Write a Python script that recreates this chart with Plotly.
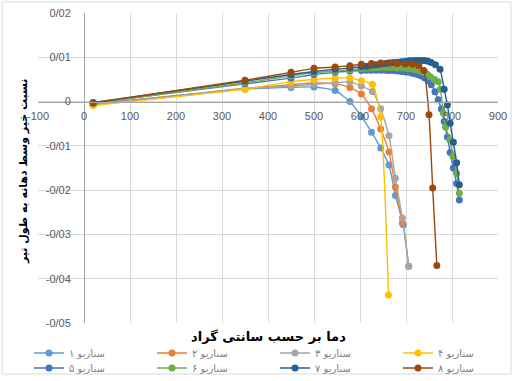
import plotly.graph_objects as go

# ---- data ----
names = ["سناریو ۱", "سناریو ۲", "سناریو ۳", "سناریو ۴",
         "سناریو ۵", "سناریو ۶", "سناریو ۷", "سناریو ۸"]
colors = ["#5B9BD5", "#ED7D31", "#A5A5A5", "#FFC000",
          "#4472C4", "#70AD47", "#255E91", "#9E480E"]

x1 = [20, 350, 450, 500, 546, 578, 603, 625, 645, 663, 677, 694, 706]
y1 = [-0.0005, 0.0028, 0.0032, 0.0033, 0.0025, 0.0000, -0.0034, -0.0069,
      -0.0105, -0.0143, -0.0212, -0.0278, -0.0372]

x2 = [20, 350, 450, 500, 546, 578, 603, 625, 645, 663, 677, 692]
y2 = [-0.0007, 0.0030, 0.0038, 0.0042, 0.0040, 0.0032, 0.0017, -0.0016,
      -0.0062, -0.0114, -0.0193, -0.0274]

x3 = [20, 350, 450, 500, 546, 578, 603, 627, 645, 663, 677, 692, 706]
y3 = [-0.0008, 0.0029, 0.0035, 0.0039, 0.0042, 0.0045, 0.0035, 0.0023,
      -0.0016, -0.0077, -0.0173, -0.0263, -0.0372]

x4 = [20, 350, 450, 500, 546, 578, 603, 627, 645, 662]
y4 = [-0.0009, 0.0028, 0.0045, 0.0050, 0.0053, 0.0053, 0.0047, 0.0039,
      -0.0035, -0.0437]

x5 = [20, 350, 450, 500, 546, 578, 603, 615, 625, 635, 645, 655, 663, 672,
      681, 690, 699, 707, 714, 721, 728, 735, 741, 748, 755, 763, 770, 777,
      783, 790, 796, 803, 810, 816]
y5 = [-0.0003, 0.0040, 0.0053, 0.0061, 0.0066, 0.0069, 0.0070, 0.0071,
      0.0071, 0.0071, 0.0071, 0.0071, 0.0070, 0.0070, 0.0069, 0.0068,
      0.0067, 0.0066, 0.0064, 0.0062, 0.0060, 0.0057, 0.0053, 0.0047,
      0.0038, 0.0022, 0.0004, -0.0017, -0.0045, -0.0080, -0.0115,
      -0.0150, -0.0185, -0.0222]

x6 = [20, 350, 450, 500, 546, 578, 603, 615, 625, 635, 645, 655, 663, 672,
      681, 690, 699, 707, 714, 721, 728, 735, 741, 747, 753, 762, 770, 775,
      781, 786, 795, 802, 810, 816]
y6 = [-0.0004, 0.0042, 0.0058, 0.0065, 0.0069, 0.0072, 0.0074, 0.0075,
      0.0076, 0.0076, 0.0077, 0.0077, 0.0077, 0.0077, 0.0076, 0.0076,
      0.0075, 0.0074, 0.0073, 0.0072, 0.0070, 0.0068, 0.0065, 0.0061,
      0.0056, 0.0050, 0.0045, 0.0028, -0.0026, -0.0058, -0.0086,
      -0.0124, -0.0162, -0.0207]

x7 = [20, 350, 450, 500, 546, 578, 603, 615, 625, 635, 645, 655, 663, 672,
      681, 690, 699, 707, 714, 721, 728, 735, 741, 748, 755, 764, 774, 783,
      790, 796, 803, 810, 816]
y7 = [-0.0002, 0.0046, 0.0061, 0.0068, 0.0073, 0.0076, 0.0079, 0.0080,
      0.0082, 0.0083, 0.0085, 0.0086, 0.0087, 0.0088, 0.0089, 0.0090,
      0.0091, 0.0092, 0.0092, 0.0093, 0.0093, 0.0093, 0.0093, 0.0091,
      0.0088, 0.0083, 0.0073, 0.0028, -0.0008, -0.0049, -0.0092,
      -0.0138, -0.0188]

x8 = [20, 350, 450, 500, 546, 578, 603, 625, 645, 663, 681, 699, 714, 728,
      739, 750, 758, 767]
y8 = [-0.0003, 0.0048, 0.0066, 0.0075, 0.0078, 0.0081, 0.0084, 0.0086,
      0.0087, 0.0087, 0.0086, 0.0085, 0.0084, 0.0081, 0.0070, -0.0030,
      -0.0195, -0.0370]

xs = [x1, x2, x3, x4, x5, x6, x7, x8]
ys = [y1, y2, y3, y4, y5, y6, y7, y8]

x_ticks = [-100, 0, 100, 200, 300, 400, 500, 600, 700, 800, 900]
y_ticks = [0.02, 0.01, 0, -0.01, -0.02, -0.03, -0.04, -0.05]
y_ticktext = ["0/02", "0/01", "0", "-0/01", "-0/02", "-0/03", "-0/04", "-0/05"]

x_title = "دما بر حسب سانتی گراد"
y_title = "نسبت خیز وسط دهانه به طول تیر"

# ---- figure ----
fig = go.Figure()
for i in range(8):
    fig.add_trace(go.Scatter(
        x=xs[i], y=ys[i], name=names[i], mode="lines+markers",
        line=dict(color=colors[i], width=1.4, shape="spline", smoothing=0.5),
        marker=dict(color=colors[i], size=7),
        legend="legend" if i < 4 else "legend2",
    ))

W, H = 519, 381
L, R, T, B = 38, 21, 13, 58
pw, ph = W - L - R, H - T - B

def px_x(px):
    return (px - L) / pw

def px_y(py):
    return (H - B - py) / ph

tick_font = dict(family="Liberation Sans, Arial, sans-serif", size=11, color="#595959")
leg_font = dict(family="DejaVu Sans, sans-serif", size=10, color="#7F7F7F")

legend_common = dict(orientation="h", xanchor="left", yanchor="middle",
                     font=leg_font, entrywidth=78, entrywidthmode="pixels",
                     itemwidth=30, tracegroupgap=0, bgcolor="rgba(0,0,0,0)")

fig.update_layout(
    width=W, height=H,
    margin=dict(l=L, r=R, t=T, b=B, autoexpand=False),
    paper_bgcolor="white", plot_bgcolor="white",
    showlegend=True,
    xaxis=dict(
        range=[-100, 900], tickvals=x_ticks, ticktext=[str(v) for v in x_ticks],
        showgrid=True, gridcolor="#D9D9D9", gridwidth=1,
        zeroline=False, showline=True, linecolor="#A6A6A6", linewidth=1,
        anchor="free", position=5 / 7, ticks="", ticklabelstandoff=4,
        tickfont=tick_font, domain=[0, 1],
    ),
    yaxis=dict(
        range=[-0.05, 0.02], tickvals=y_ticks, ticktext=y_ticktext,
        showgrid=True, gridcolor="#D9D9D9", gridwidth=1,
        zeroline=False, showline=True, linecolor="#A6A6A6", linewidth=1,
        anchor="free", position=0.1, ticks="", ticklabelstandoff=11,
        tickfont=tick_font, domain=[0, 1],
    ),
    legend=dict(x=px_x(29), y=px_y(353), **legend_common),
    legend2=dict(x=px_x(29), y=px_y(368), **legend_common),
    annotations=[
        dict(text="<b>" + x_title + "</b>", xref="paper", yref="paper",
             x=0.5, y=px_y(336), xanchor="center", yanchor="middle", showarrow=False,
             font=dict(family="DejaVu Sans, sans-serif", size=13, color="black")),
        dict(text="<b>" + y_title + "</b>", xref="paper", yref="paper",
             x=px_x(23), y=px_y(172), xanchor="center", yanchor="middle", showarrow=False,
             textangle=-90,
             font=dict(family="DejaVu Sans, sans-serif", size=11, color="black")),
    ],
    shapes=[dict(type="rect", xref="paper", yref="paper",
                 x0=px_x(2), x1=px_x(511), y0=px_y(374), y1=px_y(2),
                 line=dict(color="#D9D9D9", width=1), layer="below")],
)

fig.write_html("out.html", config={"displayModeBar": False},
               post_script="document.body.style.margin='0';")
